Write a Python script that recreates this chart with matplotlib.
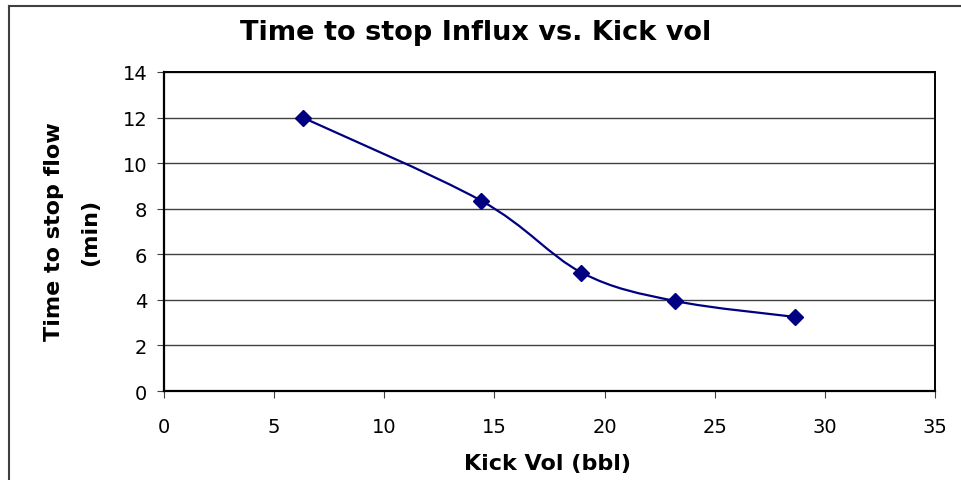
import matplotlib
matplotlib.use("Agg")
import matplotlib.pyplot as plt
from matplotlib.path import Path
from matplotlib.patches import PathPatch
from matplotlib.lines import Line2D
import numpy as np

# Kick volume (bbl) and time needed to stop the influx (min)
kick_vol = [6.3, 14.4, 18.95, 23.2, 28.65]
stop_time = [12.0, 8.35, 5.2, 3.95, 3.25]

x_ticks = [0, 5, 10, 15, 20, 25, 30, 35]
y_ticks = [0, 2, 4, 6, 8, 10, 12, 14]

title = "Time to stop Influx vs. Kick vol"
x_label = "Kick Vol (bbl)"
y_label = "Time to stop flow\n(min)"

NAVY = "#000080"
FONT = "DejaVu Sans"

plt.rcParams["font.family"] = [FONT]

W, H = 961, 481
fig = plt.figure(figsize=(W / 100, H / 100), dpi=100)
fig.patch.set_facecolor("white")

# plot area in pixels
left, right, top, bottom = 164, 935, 73, 392
ax = fig.add_axes([left / W, 1 - bottom / H, (right - left) / W, (bottom - top) / H])

ax.set_xlim(x_ticks[0], x_ticks[-1])
ax.set_ylim(y_ticks[0], y_ticks[-1])
ax.set_xticks(x_ticks)
ax.set_yticks(y_ticks)

ax.grid(axis="y", color="#404040", linewidth=1.0)
ax.set_axisbelow(True)

for side in ("top", "right"):
    ax.spines[side].set_color("#000000")
    ax.spines[side].set_linewidth(1.4)
for side in ("left", "bottom"):
    ax.spines[side].set_color("#000000")
    ax.spines[side].set_linewidth(1.6)

ax.tick_params(axis="both", direction="out", length=5, width=0.8, color="#404040",
               labelsize=14, labelcolor="black")
ax.tick_params(axis="y", pad=7)
ax.tick_params(axis="x", pad=14)


def smooth_path(xs, ys):
    """Cubic Bezier path through the points, spreadsheet-style smoothing."""
    pts = np.column_stack([xs, ys]).astype(float)
    n = len(pts)
    verts = [pts[0]]
    codes = [Path.MOVETO]
    for i in range(n - 1):
        p0 = pts[i - 1] if i > 0 else pts[i]
        p1 = pts[i]
        p2 = pts[i + 1]
        p3 = pts[i + 2] if i + 2 < n else pts[i + 1]
        c1 = p1 + (p2 - p0) / 6.0
        c2 = p2 - (p3 - p1) / 6.0
        verts += [c1, c2, p2]
        codes += [Path.CURVE4] * 3
    return Path(verts, codes)


ax.add_patch(PathPatch(smooth_path(kick_vol, stop_time), facecolor="none",
                       edgecolor=NAVY, linewidth=1.6, zorder=3))
ax.plot(kick_vol, stop_time, linestyle="none", marker="D", markersize=8,
        color=NAVY, zorder=4)

fig.text(476 / W, 1 - 33 / H, title, ha="center", va="center",
         fontsize=19.5, fontweight="bold")
fig.text(548 / W, 1 - 464 / H, x_label, ha="center", va="center",
         fontsize=16, fontweight="bold")
fig.text(72 / W, 1 - 232 / H, y_label, ha="center", va="center", rotation=90,
         fontsize=16, fontweight="bold", multialignment="center", linespacing=2.0)

# outer chart frame (continues past the right and bottom edges)
fig.add_artist(Line2D([9 / W, 9 / W], [0, 1 - 6.5 / H], transform=fig.transFigure,
                      color="#404040", linewidth=1.5))
fig.add_artist(Line2D([9 / W, 1], [1 - 6.5 / H, 1 - 6.5 / H], transform=fig.transFigure,
                      color="#404040", linewidth=1.5))

fig.savefig("out.png", dpi=100)
